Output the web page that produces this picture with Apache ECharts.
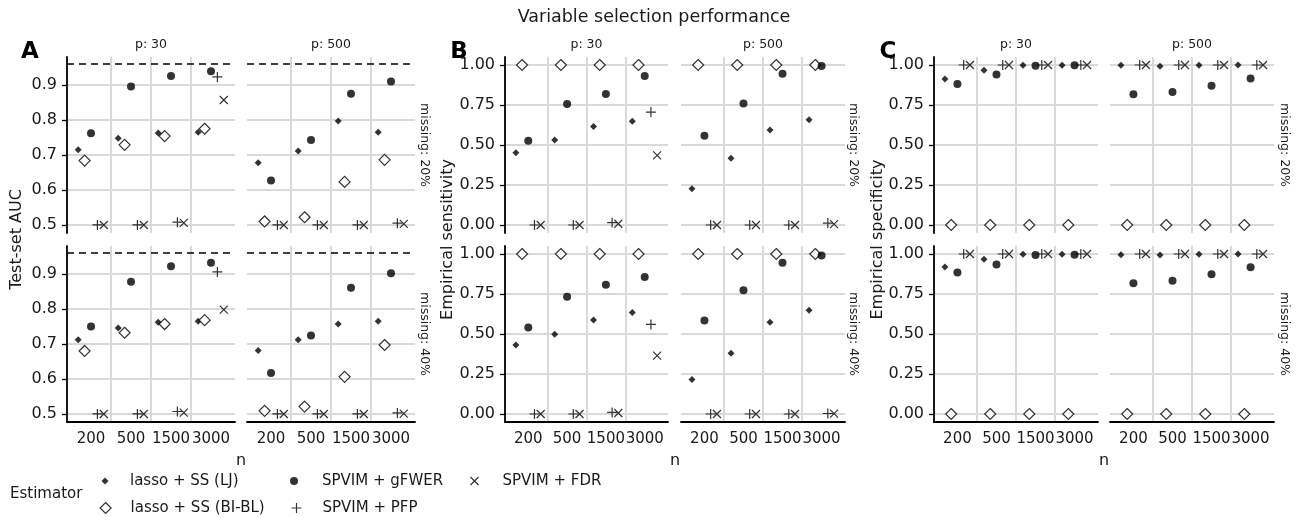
<!DOCTYPE html>
<html><head><meta charset="utf-8">
<script src="https://cdn.jsdelivr.net/npm/echarts@6/dist/echarts.min.js"></script>
<style>html,body{margin:0;padding:0;background:#fff}#c{width:1299px;height:517px}</style>
</head><body><div id="c"></div>
<script>
// ---------------- data ----------------
const nLabels = ['200', '500', '1500', '3000'];
const estimators = ['lasso + SS (LJ)', 'lasso + SS (BI-BL)', 'SPVIM + gFWER', 'SPVIM + PFP', 'SPVIM + FDR'];
const pLabels = ['p: 30', 'p: 500'];
const missingLabels = ['missing: 20%', 'missing: 40%'];
const aucTicks = [0.5, 0.6, 0.7, 0.8, 0.9];
const propTicks = [0, 0.25, 0.5, 0.75, 1];
const aucOracle = 0.958;

// facet order: [p30 & missing 20%, p500 & missing 20%, p30 & missing 40%, p500 & missing 40%]
const aucLJ = [
  [0.715, 0.748, 0.763, 0.765],
  [0.678, 0.711, 0.797, 0.765],
  [0.712, 0.746, 0.762, 0.765],
  [0.681, 0.712, 0.757, 0.765]
];
const aucBIBL = [
  [0.684, 0.729, 0.754, 0.775],
  [0.510, 0.522, 0.623, 0.686],
  [0.680, 0.732, 0.757, 0.768],
  [0.509, 0.521, 0.606, 0.697]
];
const aucGFWER = [
  [0.762, 0.896, 0.926, 0.939],
  [0.627, 0.743, 0.875, 0.910],
  [0.750, 0.878, 0.922, 0.932],
  [0.617, 0.724, 0.861, 0.902]
];
const aucPFP = [
  [0.500, 0.500, 0.508, 0.923],
  [0.500, 0.500, 0.500, 0.505],
  [0.500, 0.500, 0.507, 0.906],
  [0.500, 0.500, 0.500, 0.503]
];
const aucFDR = [
  [0.500, 0.500, 0.506, 0.857],
  [0.500, 0.500, 0.500, 0.503],
  [0.500, 0.500, 0.504, 0.798],
  [0.500, 0.500, 0.500, 0.501]
];

const sensLJ = [
  [0.452, 0.531, 0.615, 0.648],
  [0.227, 0.417, 0.594, 0.658],
  [0.431, 0.498, 0.588, 0.635],
  [0.215, 0.379, 0.573, 0.648]
];
const sensBIBL = [
  [1, 1, 1, 1],
  [1, 1, 1, 1],
  [1, 1, 1, 1],
  [1, 1, 1, 1]
];
const sensGFWER = [
  [0.527, 0.756, 0.819, 0.931],
  [0.558, 0.760, 0.946, 0.994],
  [0.540, 0.733, 0.808, 0.856],
  [0.585, 0.773, 0.946, 0.990]
];
const sensPFP = [
  [0, 0, 0.015, 0.706],
  [0, 0, 0, 0.012],
  [0, 0, 0.010, 0.560],
  [0, 0, 0, 0.003]
];
const sensFDR = [
  [0, 0, 0.008, 0.435],
  [0, 0, 0, 0.005],
  [0, 0, 0.006, 0.365],
  [0, 0, 0, 0.002]
];

const specLJ = [
  [0.912, 0.967, 0.998, 0.999],
  [0.999, 0.992, 0.999, 1.000],
  [0.919, 0.967, 0.998, 0.999],
  [0.996, 0.994, 0.999, 1.000]
];
const specBIBL = [
  [0, 0, 0, 0],
  [0, 0, 0, 0],
  [0, 0, 0, 0],
  [0, 0, 0, 0]
];
const specGFWER = [
  [0.881, 0.940, 0.996, 0.999],
  [0.817, 0.831, 0.871, 0.915],
  [0.885, 0.935, 0.994, 0.996],
  [0.817, 0.833, 0.873, 0.917]
];
const specPFP = [
  [1, 1, 1, 1],
  [1, 1, 1, 1],
  [1, 1, 1, 1],
  [1, 1, 1, 1]
];
const specFDR = [
  [1, 1, 1, 1],
  [1, 1, 1, 1],
  [1, 1, 1, 1],
  [1, 1, 1, 1]
];

// ---------------- layout / style ----------------
const FONT = 'DejaVu Sans';
const TXT = '#1a1a1a';
const GRID = '#d9d9d9';
const dodge = [-0.32, -0.16, 0, 0.16, 0.32];
const symbolDefs = [
  { symbol: 'diamond', size: [7, 7], itemStyle: { color: '#000' } },
  { symbol: 'diamond', size: [11, 11], itemStyle: { color: '#fff', borderColor: '#000', borderWidth: 1.2 } },
  { symbol: 'circle', size: 8, itemStyle: { color: '#000' } },
  { symbol: 'path://M0,5L10,5M5,0L5,10', size: 10, itemStyle: { color: 'none', borderColor: '#000', borderWidth: 1.2 } },
  { symbol: 'path://M0,0L10,10M10,0L0,10', size: 8, itemStyle: { color: 'none', borderColor: '#000', borderWidth: 1.2 } }
];
const colGeom = [
  [[67, 168], [247, 168]],
  [[505, 163], [681, 164]],
  [[934, 164], [1110, 164]]
];
const rowGeom = [[57, 176], [246, 176]];
const panelDefs = [
  { letter: 'A', ytitle: 'Test-set AUC', data: [aucLJ, aucBIBL, aucGFWER, aucPFP, aucFDR], min: 0.477, max: 0.98, ticks: aucTicks, dec: 1, ref: aucOracle, letterX: 30, ytitleX: 17, stripX: 424 },
  { letter: 'B', ytitle: 'Empirical sensitivity', data: [sensLJ, sensBIBL, sensGFWER, sensPFP, sensFDR], min: -0.05, max: 1.05, ticks: propTicks, dec: 2, ref: null, letterX: 459, ytitleX: 448, stripX: 853 },
  { letter: 'C', ytitle: 'Empirical specificity', data: [specLJ, specBIBL, specGFWER, specPFP, specFDR], min: -0.05, max: 1.05, ticks: propTicks, dec: 2, ref: null, letterX: 888, ytitleX: 878, stripX: 1284 }
];

const grids = [], xAxes = [], yAxes = [], series = [], graphic = [];
const boundaries = nLabels.slice(1).map((_, i) => i + 1.5);
const centers = nLabels.map((_, i) => i + 1);

function txt(text, x, y, size, opts) {
  opts = opts || {};
  graphic.push({
    type: 'text', x: x, y: y, rotation: opts.rotation || 0, silent: true,
    style: { text: text, fontSize: size, fontFamily: FONT, fontWeight: opts.bold ? 'bold' : 'normal', fill: opts.fill || TXT, align: opts.align || 'center', verticalAlign: 'middle' }
  });
}

panelDefs.forEach((pd, pi) => {
  for (let r = 0; r < 2; r++) {
    for (let c = 0; c < 2; c++) {
      const g = grids.length;
      const f = r * 2 + c;
      grids.push({ left: colGeom[pi][c][0], top: rowGeom[r][0], width: colGeom[pi][c][1], height: rowGeom[r][1], containLabel: false, outerBoundsMode: 'none' });
      xAxes.push({
        gridIndex: g, type: 'value', min: 0.4, max: 4.6,
        axisLine: { show: r === 1, onZero: false, lineStyle: { color: '#000', width: 1.8 } },
        axisTick: { show: false, customValues: boundaries },
        axisLabel: { show: r === 1, customValues: centers, formatter: v => nLabels[Math.round(v) - 1], fontSize: 15, color: TXT, fontFamily: FONT, margin: 10,
          hideOverlap: false, showMinLabel: true, showMaxLabel: true },
        splitLine: { show: true, lineStyle: { color: GRID, width: 2 } }
      });
      yAxes.push({
        gridIndex: g, type: 'value', min: pd.min, max: pd.max,
        axisLine: { show: c === 0, onZero: false, lineStyle: { color: '#000', width: 1.8 } },
        axisTick: { show: c === 0, customValues: pd.ticks, length: 5, lineStyle: { color: '#000', width: 1.3 } },
        axisLabel: { show: c === 0, customValues: pd.ticks, formatter: v => Number(v).toFixed(pd.dec), fontSize: 16, color: TXT, fontFamily: FONT, margin: 10,
          hideOverlap: false, showMinLabel: true, showMaxLabel: true },
        splitLine: { show: true, lineStyle: { color: GRID, width: 2 } }
      });
      if (pd.ref != null) {
        series.push({
          type: 'scatter', name: 'reference', xAxisIndex: g, yAxisIndex: g, data: [], silent: true, z: 2,
          markLine: { silent: true, symbol: 'none', animation: false, label: { show: false }, emphasis: { disabled: true },
            lineStyle: { type: [7, 5], color: '#000', width: 1.6 }, data: [{ yAxis: pd.ref }] }
        });
      }
      pd.data.forEach((arr, e) => {
        const sd = symbolDefs[e];
        series.push({
          type: 'scatter', name: estimators[e], xAxisIndex: g, yAxisIndex: g, z: 3,
          symbol: sd.symbol, symbolSize: sd.size, itemStyle: sd.itemStyle,
          emphasis: { disabled: true },
          data: arr[f].map((v, i) => [centers[i] + dodge[e], v])
        });
      });
      if (r === 0) txt(pLabels[c], colGeom[pi][c][0] + colGeom[pi][c][1] / 2, 45, 12.5);
    }
    txt(missingLabels[r], pd.stripX, rowGeom[r][0] + rowGeom[r][1] / 2, 12.5, { rotation: -Math.PI / 2 });
  }
  txt(pd.letter, pd.letterX, 52, 23, { bold: true, fill: '#000' });
  txt(pd.ytitle, pd.ytitleX, (rowGeom[0][0] + rowGeom[1][0] + rowGeom[1][1]) / 2, 16, { rotation: Math.PI / 2 });
  const xl = colGeom[pi][0][0], xr = colGeom[pi][1][0] + colGeom[pi][1][1];
  txt('n', (xl + xr) / 2, 461, 16);
});

txt('Variable selection performance', 654, 17, 17.5);
txt('Estimator', 10, 494, 15, { align: 'left' });

// legends: [symbol centre x, row centre y, symbol size, text start x]
const legendGeom = [[105, 481, 7, 130], [105, 508, 11, 130], [294, 481, 8, 322], [294, 508, 10, 320], [472, 481, 8, 500]];
const legends = estimators.map((name, e) => {
  const [cx, cy, s, tx] = legendGeom[e];
  const sd = symbolDefs[e];
  const padLeft = tx - (cx + s / 2 + 5);
  return {
    data: [name], left: cx - s / 2, top: cy - 9, padding: 0, itemWidth: s, itemHeight: s, selectedMode: false,
    textStyle: { fontSize: 15, fontFamily: FONT, color: TXT, lineHeight: 18, padding: [0, 0, 0, padLeft] },
    itemStyle: { color: sd.itemStyle.color, borderColor: '#000', borderWidth: sd.itemStyle.borderWidth || 0 }
  };
});

const chart = echarts.init(document.getElementById('c'), null, { renderer: 'canvas' });
chart.setOption({
  backgroundColor: '#fff',
  animation: false,
  grid: grids, xAxis: xAxes, yAxis: yAxes, series: series,
  legend: legends, graphic: graphic
});
</script></body></html>
